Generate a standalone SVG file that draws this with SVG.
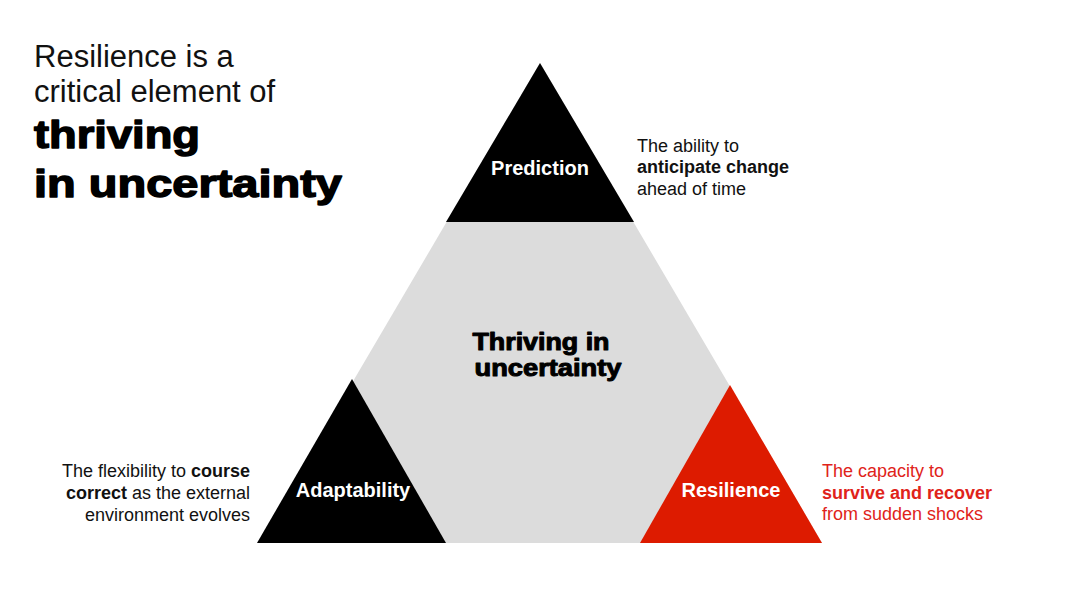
<svg xmlns="http://www.w3.org/2000/svg" width="1080" height="607" viewBox="0 0 1080 607">
<style>
text{font-family:"Liberation Sans",Arial,sans-serif}
.t{font-size:18px;fill:#111}
.b{font-weight:bold}
.lbl{font-size:20px;font-weight:bold;fill:#fff;text-anchor:middle}
.heavy{font-weight:bold;fill:#000;stroke:#000;stroke-width:1.4px;stroke-linejoin:round}
.red{fill:#e0231a}
</style>
<rect width="1080" height="607" fill="#fff"/>
<g id="title">
<text x="34" y="67" style="font-size:31px;fill:#111">Resilience is a</text>
<text x="34" y="102" style="font-size:31px;fill:#111">critical element of</text>
<text x="34" y="148" class="heavy" style="font-size:38px" textLength="166" lengthAdjust="spacingAndGlyphs">thriving</text>
<text x="34" y="197" class="heavy" style="font-size:38px" textLength="308" lengthAdjust="spacingAndGlyphs">in uncertainty</text>
</g>
<g id="center">
<polygon points="540,63 258,543 822,543" fill="#dcdcdc"/>
<text x="541" y="350" class="heavy" style="font-size:23px;stroke-width:1px" text-anchor="middle" textLength="137" lengthAdjust="spacingAndGlyphs">Thriving in</text>
<text x="548" y="376" class="heavy" style="font-size:23px;stroke-width:1px" text-anchor="middle" textLength="147" lengthAdjust="spacingAndGlyphs">uncertainty</text>
</g>
<g id="connectors"></g>
<g id="prediction">
<polygon points="540,63 446,222 634,222" fill="#000"/>
<text x="540" y="175" class="lbl">Prediction</text>
<text x="637" y="152" class="t">The ability to</text>
<text x="637" y="173" class="t b">anticipate change</text>
<text x="637" y="194.5" class="t">ahead of time</text>
</g>
<g id="adaptability">
<polygon points="352,379 257,543 446,543" fill="#000"/>
<text x="353" y="497" class="lbl">Adaptability</text>
<text x="250" y="477" class="t" text-anchor="end">The flexibility to <tspan class="b">course</tspan></text>
<text x="250" y="499" class="t" text-anchor="end"><tspan class="b">correct</tspan> as the external</text>
<text x="250" y="520.5" class="t" text-anchor="end">environment evolves</text>
</g>
<g id="resilience">
<polygon points="730,385 640,543 822,543" fill="#dd1b00"/>
<text x="731" y="497" class="lbl">Resilience</text>
<text x="822" y="477" class="t red">The capacity to</text>
<text x="822" y="498.5" class="t red b">survive and recover</text>
<text x="822" y="520" class="t red">from sudden shocks</text>
</g>
</svg>
